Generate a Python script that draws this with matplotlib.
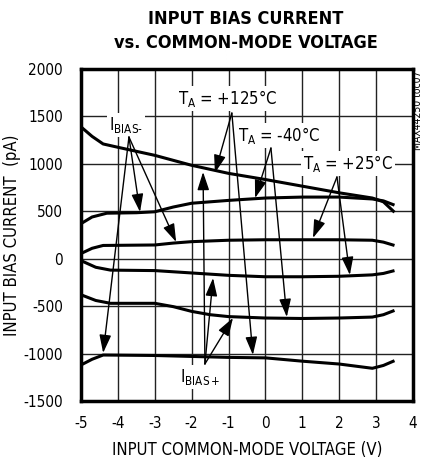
import numpy as np
import matplotlib
matplotlib.use("Agg")
import matplotlib.pyplot as plt
from matplotlib import font_manager

plt.rcParams['font.family'] = ['DejaVu Sans']
plt.rcParams['font.stretch'] = 'condensed'
plt.rcParams['axes.unicode_minus'] = False

# narrow face for the subscripted labels too
math_font = 'DejaVu Sans:stretch=condensed'
try:
    font_manager.FontProperties(math_font)
except Exception:
    math_font = 'DejaVu Sans'
plt.rcParams['mathtext.fontset'] = 'custom'
plt.rcParams['mathtext.rm'] = math_font
plt.rcParams['mathtext.it'] = math_font

# curves (V, pA)
x_a = [-5, -4.7, -4.4, -4.0, -3, -2, -1, 0, 1, 2, 2.9, 3.2, 3.5]
y_a = [1390, 1290, 1210, 1175, 1090, 985, 900, 835, 765, 695, 640, 600, 490]   # +125C IBIAS-

x_b = [-5, -4.7, -4.3, -3.5, -3, -2.5, -2, -1, 0, 1, 2, 2.9, 3.2, 3.5]
y_b = [370, 440, 480, 485, 495, 545, 585, 615, 640, 650, 650, 630, 610, 565]   # -40C IBIAS-

x_c = [-5, -4.7, -4.4, -3, -2.5, -2, -1, 0, 1, 2, 2.9, 3.2, 3.5]
y_c = [55, 110, 140, 145, 165, 180, 195, 200, 200, 200, 195, 175, 140]          # +25C IBIAS-

x_d = [-5, -4.6, -4.2, -3, -2, -1, 0, 1, 2, 2.9, 3.2, 3.5]
y_d = [-20, -90, -120, -125, -150, -175, -190, -190, -185, -170, -155, -125]    # +25C IBIAS+

x_e = [-5, -4.6, -4.2, -3, -2.5, -2, -1.5, -1, 0, 1, 2, 2.9, 3.2, 3.5]
y_e = [-380, -440, -470, -470, -505, -555, -590, -610, -625, -630, -625, -615, -590, -545]  # -40C IBIAS+

x_f = [-5, -4.7, -4.4, -3, -2, -1, 0, 1, 2, 2.6, 2.9, 3.2, 3.5]
y_f = [-1120, -1060, -1015, -1020, -1030, -1040, -1045, -1080, -1110, -1140, -1155, -1125, -1075]  # +125C IBIAS+

curves = [(x_a, y_a), (x_b, y_b), (x_c, y_c), (x_d, y_d), (x_e, y_e), (x_f, y_f)]

# labels: text, position, arrow start, arrow tips
labels = [
    (r'I$_\mathrm{BIAS\text{-}}$', (-3.78, 1410), (-3.70, 1283), [(-3.40, 493), (-2.42, 177), (-4.40, -993)]),
    (r'T$_\mathrm{A}$ = +125°C', (-1.02, 1694), (-0.91, 1536), [(-1.37, 904), (-0.34, -1014)]),
    (r'T$_\mathrm{A}$ = -40°C', (0.37, 1294), (0.15, 1167), [(-0.28, 640), (0.58, -614)]),
    (r'T$_\mathrm{A}$ = +25°C', (2.24, 999), (1.94, 862), [(1.29, 219), (2.29, -171)]),
    (r'I$_\mathrm{BIAS+}$', (-1.77, -1246), (-1.64, -1109), [(-1.69, 914), (-1.42, -203), (-0.88, -624)]),
]

fig = plt.figure(figsize=(4.25, 4.62), dpi=100)
ax = fig.add_axes([0.1906, 0.132, 0.781, 0.7186])

for xs, ys in curves:
    ax.plot(xs, ys, color='black', lw=2.2, solid_capstyle='butt', zorder=3)

for txt, pos, start, tips in labels:
    ax.text(pos[0], pos[1], txt, ha='center', va='center', fontsize=12, zorder=5,
            bbox=dict(facecolor='white', edgecolor='none', pad=1.5))
    for t in tips:
        ax.annotate('', xy=t, xytext=start, zorder=6,
                    arrowprops=dict(arrowstyle='-|>,head_length=1.1,head_width=0.36',
                                    mutation_scale=10, lw=1.0, color='black',
                                    shrinkA=0, shrinkB=0))

ax.set_xlim(-5, 4)
ax.set_ylim(-1500, 2000)
ax.set_xticks(np.arange(-5, 5, 1))
ax.set_yticks(np.arange(-1500, 2001, 500))
ax.grid(True, color='#222222', lw=1.0, zorder=1)
ax.set_axisbelow(True)
ax.tick_params(length=0, labelsize=11)
ax.tick_params(axis='y', pad=13)
ax.tick_params(axis='x', pad=11)
for s in ax.spines.values():
    s.set_linewidth(2.5)

ax.set_xlabel('INPUT COMMON-MODE VOLTAGE (V)', fontsize=12)
ax.set_ylabel('INPUT BIAS CURRENT  (pA)', fontsize=12)
ax.xaxis.set_label_coords(0.5, -0.12)
ax.yaxis.set_label_coords(-0.208, 0.5)
ax.yaxis.label.set_va('center')

fig.text(0.579, 0.959, 'INPUT BIAS CURRENT', ha='center', va='center', fontsize=13, fontweight='bold')
fig.text(0.579, 0.907, 'vs. COMMON-MODE VOLTAGE', ha='center', va='center', fontsize=13, fontweight='bold')
fig.text(418 / 425, 1 - 70 / 462, 'MAX44250 toc07', rotation=90, ha='center', va='top', fontsize=7.5)

fig.savefig('out.png', dpi=100)
